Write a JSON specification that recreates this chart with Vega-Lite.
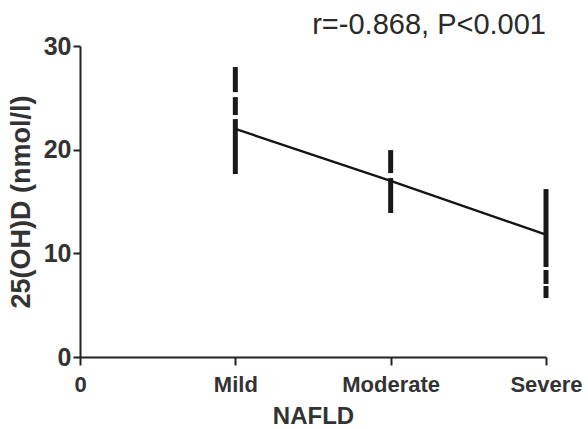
{
  "$schema": "https://vega.github.io/schema/vega-lite/v6.json",
  "width": 466,
  "height": 311,
  "autosize": "none",
  "padding": {"left": 80, "top": 46, "right": 42, "bottom": 72},
  "background": "white",
  "config": {"view": {"stroke": null}, "font": "Liberation Sans"},
  "title": {
    "text": "r=-0.868, P<0.001",
    "anchor": "end",
    "frame": "group",
    "fontSize": 29,
    "fontWeight": "normal",
    "color": "#2a2a2a",
    "font": "Liberation Sans",
    "offset": -6
  },
  "datasets": {
    "means": [
      {"level": 1, "mean": 22.0},
      {"level": 2, "mean": 17.0},
      {"level": 3, "mean": 11.8}
    ],
    "segments": [
      {"level": 1, "lo": 17.65, "hi": 22.95},
      {"level": 1, "lo": 23.34, "hi": 25.07},
      {"level": 1, "lo": 25.55, "hi": 27.97},
      {"level": 2, "lo": 13.89, "hi": 17.26},
      {"level": 2, "lo": 17.74, "hi": 19.96},
      {"level": 3, "lo": 5.69, "hi": 6.85},
      {"level": 3, "lo": 7.04, "hi": 8.39},
      {"level": 3, "lo": 8.68, "hi": 16.2}
    ]
  },
  "layer": [
    {
      "data": {"name": "segments"},
      "mark": {"type": "rule", "strokeWidth": 5, "color": "#1a1a1a", "strokeCap": "butt"},
      "encoding": {
        "x": {
          "field": "level",
          "type": "quantitative",
          "scale": {"domain": [0, 3], "nice": false},
          "axis": {
            "values": [0, 1, 2, 3],
            "labelExpr": "['0','Mild','Moderate','Severe'][datum.value]",
            "labelFlush": false,
            "labelOverlap": false,
            "labelFontSize": 22,
            "labelFontWeight": "bold",
            "labelColor": "#333333",
            "labelPadding": 9,
            "tickColor": "#222222",
            "tickWidth": 2,
            "tickSize": 8,
            "domainColor": "#222222",
            "domainWidth": 2,
            "grid": false,
            "title": "NAFLD",
            "titleFontSize": 24,
            "titleFontWeight": "bold",
            "titleColor": "#333333",
            "titlePadding": 9
          }
        },
        "y": {
          "field": "lo",
          "type": "quantitative",
          "scale": {"domain": [0, 30], "nice": false},
          "axis": {
            "values": [0, 10, 20, 30],
            "labelFontSize": 25,
            "labelFontWeight": "bold",
            "labelColor": "#333333",
            "labelPadding": 2,
            "tickColor": "#222222",
            "tickWidth": 2,
            "tickSize": 7,
            "domainColor": "#222222",
            "domainWidth": 2,
            "grid": false,
            "title": "25(OH)D (nmol/l)",
            "titleFontSize": 27,
            "titleFontWeight": "bold",
            "titleColor": "#333333",
            "titlePadding": 8
          }
        },
        "y2": {"field": "hi"}
      }
    },
    {
      "data": {"name": "means"},
      "mark": {"type": "line", "color": "#151515", "strokeWidth": 2.4},
      "encoding": {
        "x": {"field": "level", "type": "quantitative"},
        "y": {"field": "mean", "type": "quantitative"}
      }
    }
  ]
}
